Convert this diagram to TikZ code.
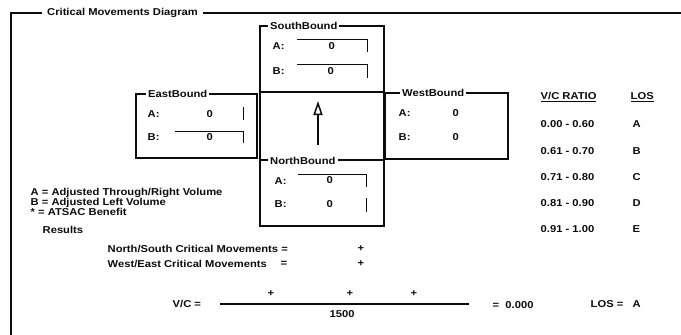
\documentclass[tikz,border=0pt]{standalone}
\usepackage{fontspec}
\setmainfont{Liberation Sans}[FakeStretch=1.12]
\usetikzlibrary{arrows.meta, positioning}
\definecolor{inkblack}{RGB}{12, 12, 12}
\definecolor{paperwhite}{RGB}{255, 255, 255}

\begin{document}
\begin{tikzpicture}[x=1pt, y=-1pt,
  lbl/.style={font=\fontsize{10}{11}\selectfont\bfseries, text=inkblack, inner sep=0.5pt, anchor=west},
  grptitle/.style={lbl, fill=paperwhite, inner xsep=2pt},
  grpbox/.style={draw=inkblack, line width=1.2pt},
  fld/.style={draw=inkblack, line width=0.9pt}]

  \useasboundingbox (0,0) rectangle (681,335);

  % 外框
  \draw[inkblack, line width=2.4pt] (11,335) -- (11,13) -- (681,13);
  \node[grptitle, inner xsep=5pt] (title) at (42,13) {Critical Movements Diagram};

  % SouthBound
  \draw[grpbox] (260,26) rectangle (384,92);
  \node[grptitle] (sbT) at (268,26) {SouthBound};
  \node[lbl] (sbA) at (272,46) {A:};
  \node[lbl] (sbAv) at (328,46) {0};
  \draw[fld] (297,39) -- (367,39) -- (367,52);
  \node[lbl] (sbB) at (272,71) {B:};
  \node[lbl] (sbBv) at (327,71) {0};
  \draw[fld] (297,64) -- (367,64) -- (367,78);

  % 中心框与箭头
  \draw[grpbox] (260,92) rectangle (384,160);
  \coordinate (arrTail) at (318,145);
  \coordinate (arrTip) at (318,101);
  \draw[inkblack, line width=1.5pt, -{Triangle[open, length=14pt, width=9pt]}] (arrTail) -- (arrTip);

  % EastBound
  \draw[grpbox] (136,94) rectangle (257,158);
  \node[grptitle] (ebT) at (146,94) {EastBound};
  \node[lbl] (ebA) at (147,114) {A:};
  \node[lbl] (ebAv) at (206,114) {0};
  \draw[fld] (243,107) -- (243,120);
  \node[lbl] (ebB) at (147,137) {B:};
  \node[lbl] (ebBv) at (206,137) {0};
  \draw[fld] (175,131) -- (243,131) -- (243,143);

  % WestBound
  \draw[grpbox] (385,93) rectangle (508,159);
  \node[grptitle] (wbT) at (400,93) {WestBound};
  \node[lbl] (wbA) at (398,113) {A:};
  \node[lbl] (wbAv) at (452,113) {0};
  \node[lbl] (wbB) at (398,137) {B:};
  \node[lbl] (wbBv) at (452,137) {0};

  % NorthBound
  \draw[grpbox] (260,160) rectangle (384,226);
  \node[grptitle] (nbT) at (268,161) {NorthBound};
  \node[lbl] (nbA) at (274,181) {A:};
  \node[lbl] (nbAv) at (326,180) {0};
  \draw[fld] (298,174) -- (366,174) -- (366,187);
  \node[lbl] (nbB) at (274,204) {B:};
  \node[lbl] (nbBv) at (326,204) {0};
  \draw[fld] (366,198) -- (366,212);

  % V/C 与 LOS 对照表
  \node[lbl] (vcHead) at (540,97) {\underline{V/C RATIO}};
  \node[lbl] (losHead) at (630,97) {\underline{LOS}};
  \foreach \rng/\los [count=\i] in {0.00 - 0.60/A, 0.61 - 0.70/B, 0.71 - 0.80/C, 0.81 - 0.90/D, 0.91 - 1.00/E}
  {
    \node[lbl] (rng\i) at (540,{98+26.3*\i}) {\rng};
    \node[lbl] (los\i) at (632,{98+26.3*\i}) {\los};
  }

  % 图例
  \node[lbl] (legA) at (30,192.5) {A = Adjusted Through/Right Volume};
  \node[lbl] (legB) at (30,202.5) {B = Adjusted Left Volume};
  \node[lbl] (legS) at (30,212) {* = ATSAC Benefit};

  % 结果
  \node[lbl] (res) at (42,230) {Results};
  \node[lbl] (nsCrit) at (107,249) {North/South Critical Movements =};
  \node[lbl] (nsPlus) at (357,249) {+};
  \node[lbl] (weCrit) at (107,264) {West/East Critical Movements};
  \node[lbl] (weEq) at (280,264) {=};
  \node[lbl] (wePlus) at (357,264) {+};

  \node[lbl] (vcEq) at (172,304) {V/C =};
  \coordinate (fracL) at (220,304);
  \coordinate (fracR) at (469,304);
  \draw[inkblack, line width=1.6pt] (fracL) -- (fracR);
  \node[lbl] (fp1) at (267,294) {+};
  \node[lbl] (fp2) at (346,294) {+};
  \node[lbl] (fp3) at (410,294) {+};
  \node[lbl] (den) at (329,314) {1500};
  \node[lbl] (vcRes) at (492,305) {=\ \ 0.000};
  \node[lbl] (losRes) at (590,304) {LOS =\ \ \ A};

\end{tikzpicture}
\end{document}
